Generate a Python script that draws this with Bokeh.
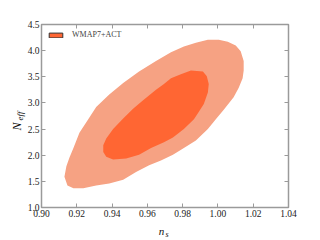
import math
from bokeh.plotting import figure
from bokeh.models import (Range1d, FixedTicker, PrintfTickFormatter, LinearAxis,
                          Label, Legend, LegendItem, CustomJSTickFormatter)
from bokeh.embed import file_html
from bokeh.resources import INLINE

# 95% contour (outer) for WMAP7+ACT in (n_s, N_eff)
outer_ns = [0.9130, 0.9141, 0.9158, 0.9181, 0.9215, 0.9265, 0.9310, 0.9384, 0.9463, 0.9553,
            0.9649, 0.9734, 0.9807, 0.9875, 0.9943, 1.0005, 1.0056, 1.0101, 1.0129, 1.0146,
            1.0146, 1.0140, 1.0118, 1.0089, 1.0033, 0.9988, 0.9943, 0.9875, 0.9807, 0.9745,
            0.9677, 0.9610, 0.9536, 0.9463, 0.9384, 0.9310, 0.9237, 0.9181, 0.9147]
outer_neff = [1.586, 1.788, 1.953, 2.136, 2.429, 2.686, 2.924, 3.162, 3.382, 3.602,
              3.804, 3.969, 4.079, 4.152, 4.207, 4.207, 4.170, 4.097, 3.987, 3.804,
              3.620, 3.474, 3.291, 3.107, 2.869, 2.686, 2.503, 2.283, 2.136, 2.008,
              1.898, 1.806, 1.678, 1.531, 1.458, 1.421, 1.367, 1.367, 1.421]

# 68% contour (inner)
inner_ns = [0.9350, 0.9367, 0.9406, 0.9463, 0.9519, 0.9576, 0.9649, 0.9694, 0.9734, 0.9790,
            0.9847, 0.9915, 0.9937, 0.9948, 0.9943, 0.9920, 0.9892, 0.9864, 0.9807, 0.9745,
            0.9694, 0.9621, 0.9553, 0.9480, 0.9406, 0.9367, 0.9350]
inner_neff = [2.191, 2.319, 2.503, 2.704, 2.887, 3.052, 3.254, 3.364, 3.474, 3.547,
              3.620, 3.602, 3.511, 3.364, 3.199, 2.979, 2.833, 2.686, 2.503, 2.338,
              2.246, 2.136, 2.008, 1.935, 1.916, 1.971, 2.063]

x_ticks = [0.90, 0.92, 0.94, 0.96, 0.98, 1.00, 1.02, 1.04]
y_ticks = [1.0, 1.5, 2.0, 2.5, 3.0, 3.5, 4.0, 4.5]
legend_label = "WMAP7+ACT"

SERIF = "Liberation Serif"
FRAME = "#9a9a9a"
INNER = "#FF6633"
OUTER = "#F6A283"

p = figure(width=320, height=240, x_range=Range1d(0.90, 1.04), y_range=Range1d(1.0, 4.5),
           output_backend="svg", toolbar_location=None,
           min_border_left=40, min_border_right=32, min_border_top=24, min_border_bottom=25)
p.grid.visible = False
p.outline_line_color = FRAME
p.outline_line_width = 1.5
p.background_fill_color = "white"
p.border_fill_color = "white"

p.patch(outer_ns, outer_neff, fill_color=OUTER, line_color=None)
p.patch(inner_ns, inner_neff, fill_color=INNER, line_color=None)
# legend proxy, drawn off the visible range
leg_r = p.patch([2.0, 2.1, 2.1], [10.0, 10.0, 11.0], fill_color=INNER,
                line_color="#333333", line_width=1)

def style(ax, ticks, fmt, labels=True):
    ax.ticker = FixedTicker(ticks=ticks)
    ax.axis_line_color = None
    ax.major_tick_in = 4
    ax.major_tick_out = 0
    ax.minor_tick_line_color = None
    ax.major_tick_line_color = FRAME
    ax.major_tick_line_width = 1
    if labels:
        ax.formatter = PrintfTickFormatter(format=fmt)
        ax.major_label_text_font = SERIF
        ax.major_label_text_font_size = "9.5px"
        ax.major_label_text_color = "#222222"
        ax.major_label_standoff = 2
    else:
        ax.formatter = CustomJSTickFormatter(code="return ''")
        ax.major_label_standoff = 0
        ax.major_label_text_font_size = "1px"

style(p.xaxis[0], x_ticks, "%.2f")
style(p.yaxis[0], y_ticks, "%.1f")
top = LinearAxis()
right = LinearAxis()
style(top, x_ticks, "", labels=False)
style(right, y_ticks, "", labels=False)
p.add_layout(top, "above")
p.add_layout(right, "right")

legend = Legend(items=[LegendItem(label=legend_label, renderers=[leg_r])],
                location="top_left", margin=6, padding=1, glyph_width=17, glyph_height=6,
                label_standoff=8, label_text_font=SERIF, label_text_font_size="8px",
                label_height=6, border_line_color=None, background_fill_alpha=0, spacing=0)
p.add_layout(legend)

# axis labels (canvas pixel positions), placed in side panels so they are not clipped
def lab(x, y, t, size, side, angle=0.0):
    p.add_layout(Label(x=x, y=y, x_units="canvas", y_units="canvas", text=t,
                       text_font=SERIF, text_font_style="italic", text_font_size=size,
                       text_color="#111111",
                       text_align="center", text_baseline="middle", angle=angle), side)

lab(161, 230, "n", "11px", "below")
lab(166.5, 234, "s", "8px", "below")
lab(16.5, 126, "N", "12px", "left", math.pi / 2)
lab(19.5, 115.5, "eff", "9px", "left", math.pi / 2)

open("out.html", "w").write(file_html(p, INLINE))
